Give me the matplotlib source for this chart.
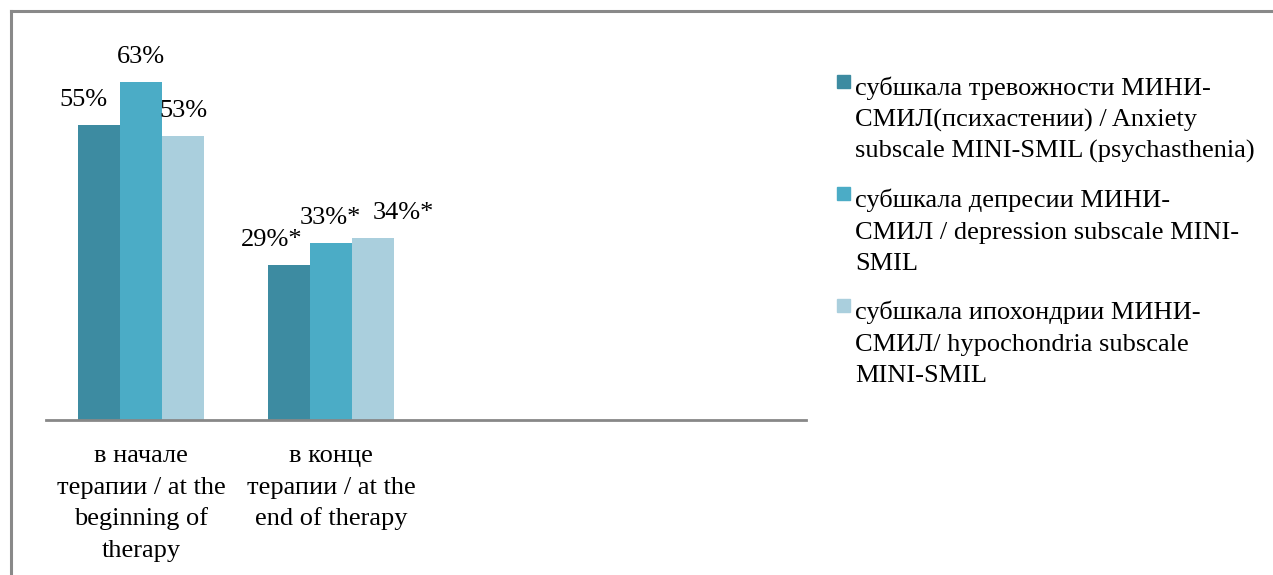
import numpy as np
import matplotlib
matplotlib.use('Agg')
import matplotlib.pyplot as plt
from matplotlib.patches import Rectangle
from matplotlib.lines import Line2D

plt.rcParams['font.family'] = ['Liberation Serif', 'DejaVu Serif']

# Данные
categories = ['в начале\nтерапии / at the\nbeginning of\ntherapy',
              'в конце\nтерапии / at the\nend of therapy']
series_names = ['субшкала тревожности МИНИ-\nСМИЛ(психастении) / Anxiety\nsubscale MINI-SMIL (psychasthenia)',
                'субшкала депресии МИНИ-\nСМИЛ / depression subscale MINI-\nSMIL',
                'субшкала ипохондрии МИНИ-\nСМИЛ/ hypochondria subscale\nMINI-SMIL']
anxiety = [55, 29]
depression = [63, 33]
hypochondria = [53, 34]
marks = ['', '*']  # значимые различия в конце терапии

values = [anxiety, depression, hypochondria]
colors = ['#3d8ba1', '#4bacc6', '#aacfdd']

W, H = 1273, 575
fig = plt.figure(figsize=(W / 100, H / 100), dpi=100)

# рамка вокруг диаграммы (видны только верх и левый край)
fig.add_artist(Line2D([11 / W, 11 / W], [0, 1 - 11 / H], color='#898989', lw=2.2))
fig.add_artist(Line2D([11 / W, 1], [1 - 11 / H, 1 - 11 / H], color='#898989', lw=2.2))

px_per_pct = 5.36
ymax = 75
base_y = 420
ax = fig.add_axes([46 / W, (H - base_y) / H, 760 / W, ymax * px_per_pct / H])
ax.set_xlim(-0.5, 3.5)
ax.set_ylim(0, ymax)
for s in ['top', 'right', 'left']:
    ax.spines[s].set_visible(False)
ax.spines['bottom'].set_color('#888888')
ax.spines['bottom'].set_linewidth(2)
ax.set_yticks([])
ax.set_xticks([])

bw = 0.221
x = np.arange(len(categories))
# сдвиги подписей данных по горизонтали (в пикселях)
label_dx = [[-16, -17], [0, -1], [0, 30]]
for i, (vals, c) in enumerate(zip(values, colors)):
    pos = x + (i - 1) * bw
    ax.bar(pos, vals, width=bw, color=c, edgecolor='none')
    for j, (p, v) in enumerate(zip(pos, vals)):
        ax.annotate(f'{v}%{marks[j]}', (p, v), xytext=(label_dx[i][j], 19),
                    textcoords='offset pixels', ha='center', va='baseline',
                    fontsize=19)

# подписи категорий
line_h = 31.7
for xi, cat in zip(x, categories):
    xp = ax.transData.transform((xi, 0))[0] / W
    for k, line in enumerate(cat.split('\n')):
        yb = 462 + k * line_h
        fig.text(xp, 1 - yb / H, line, ha='center', va='baseline', fontsize=19)

# легенда
for i, (name, c) in enumerate(zip(series_names, colors)):
    top = 75 + i * 112
    fig.add_artist(Rectangle((837 / W, 1 - (top + 13) / H), 13 / W, 13 / H,
                             color=c, transform=fig.transFigure))
    for k, line in enumerate(name.split('\n')):
        yb = 95 + i * 112 + k * 31.5
        fig.text(855 / W, 1 - yb / H, line, ha='left', va='baseline', fontsize=19)

fig.savefig('out.png', dpi=100)
